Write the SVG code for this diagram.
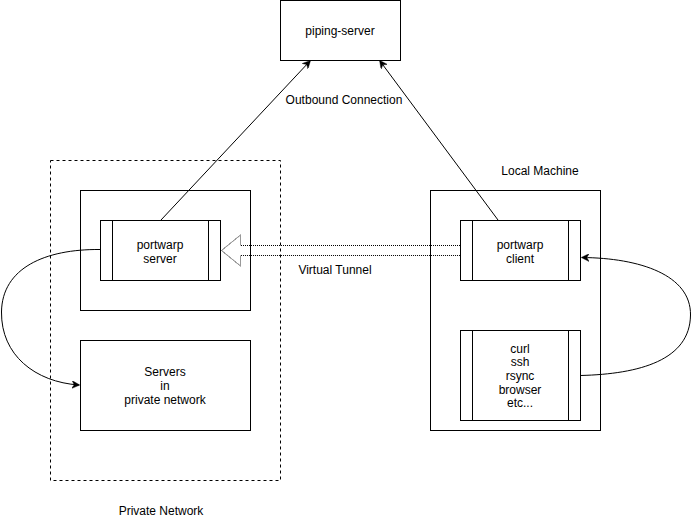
<svg xmlns="http://www.w3.org/2000/svg" width="691" height="521" viewBox="0 0 691 521">
<style>
  .box{fill:#fff;stroke:#000;stroke-width:1}
  .line{fill:none;stroke:#000;stroke-width:1}
  .t{font-family:"Liberation Sans",Arial,Helvetica,sans-serif;font-size:12px;fill:#000;text-anchor:middle}
  .dash{fill:none;stroke:#000;stroke-width:1;stroke-dasharray:3 3}
  .dot{fill:none;stroke:#000;stroke-width:1;stroke-dasharray:1 1}
</style>
<defs>
  <marker id="arr" viewBox="0 0 10 10" refX="9" refY="5" markerWidth="8" markerHeight="8" orient="auto" markerUnits="userSpaceOnUse">
    <path d="M0,0 L10,5 L0,10 L3,5 Z" fill="#000" stroke="#000" stroke-width="0.5"/>
  </marker>
</defs>
<rect width="691" height="521" fill="#fff"/>

<g id="private-network">
  <rect class="dash" x="50.5" y="160.5" width="230" height="320"/>
  <text class="t" x="161" y="515">Private Network</text>
</g>

<g id="piping-server">
  <rect class="box" x="280.5" y="0.5" width="120" height="60"/>
  <text class="t" x="340" y="35">piping-server</text>
</g>

<g id="server-host">
  <rect class="box" x="80.5" y="190.5" width="170" height="120"/>
</g>

<g id="portwarp-server">
  <rect class="box" x="100.5" y="220.5" width="120" height="60"/>
  <line class="line" x1="112.5" y1="220.5" x2="112.5" y2="280.5"/>
  <line class="line" x1="208.5" y1="220.5" x2="208.5" y2="280.5"/>
  <text class="t" x="160" y="249">portwarp</text>
  <text class="t" x="160" y="263">server</text>
</g>

<g id="servers-private">
  <rect class="box" x="80.5" y="340.5" width="170" height="90"/>
  <text class="t" x="165" y="376">Servers</text>
  <text class="t" x="165" y="390">in</text>
  <text class="t" x="165" y="404">private network</text>
</g>

<g id="local-machine">
  <rect class="box" x="430.5" y="190.5" width="170" height="240"/>
  <text class="t" x="540" y="175">Local Machine</text>
</g>

<g id="portwarp-client">
  <rect class="box" x="460.5" y="220.5" width="120" height="60"/>
  <line class="line" x1="472.5" y1="220.5" x2="472.5" y2="280.5"/>
  <line class="line" x1="568.5" y1="220.5" x2="568.5" y2="280.5"/>
  <text class="t" x="520" y="249">portwarp</text>
  <text class="t" x="520" y="263">client</text>
</g>

<g id="tools">
  <rect class="box" x="460.5" y="330.5" width="120" height="90"/>
  <line class="line" x1="472.5" y1="330.5" x2="472.5" y2="420.5"/>
  <line class="line" x1="568.5" y1="330.5" x2="568.5" y2="420.5"/>
  <text class="t" x="520" y="353">curl</text>
  <text class="t" x="520" y="366">ssh</text>
  <text class="t" x="520" y="380">rsync</text>
  <text class="t" x="520" y="394">browser</text>
  <text class="t" x="520" y="407">etc...</text>
</g>

<g id="connectors">
  <line class="line" x1="161" y1="220" x2="310" y2="61" marker-end="url(#arr)"/>
  <line class="line" x1="498" y1="220" x2="380" y2="61" marker-end="url(#arr)"/>
  <text class="t" x="344" y="104">Outbound Connection</text>

  <path class="line" d="M100,249.5 C45,249 2,268 1.5,312 C1,355 35,382 79,385" marker-end="url(#arr)"/>
  <path class="line" d="M580.5,375.5 C640,374 690,360 690.5,315 C691,275 640,258 582,257.5" marker-end="url(#arr)"/>

  <path class="dot" d="M460,245.5 L240.5,245.5 L240.5,235 L221.5,250.5 L240.5,266 L240.5,255.5 L460,255.5" stroke="#000"/>
  <path d="M240.5,235 L221.5,250.5 L240.5,266" fill="none" stroke="#999" stroke-width="1"/>
  <line x1="240.5" y1="235" x2="240.5" y2="245.5" stroke="#999" stroke-width="1"/>
  <line x1="240.5" y1="255.5" x2="240.5" y2="266" stroke="#999" stroke-width="1"/>
  <text class="t" x="335" y="274">Virtual Tunnel</text>
</g>
</svg>
